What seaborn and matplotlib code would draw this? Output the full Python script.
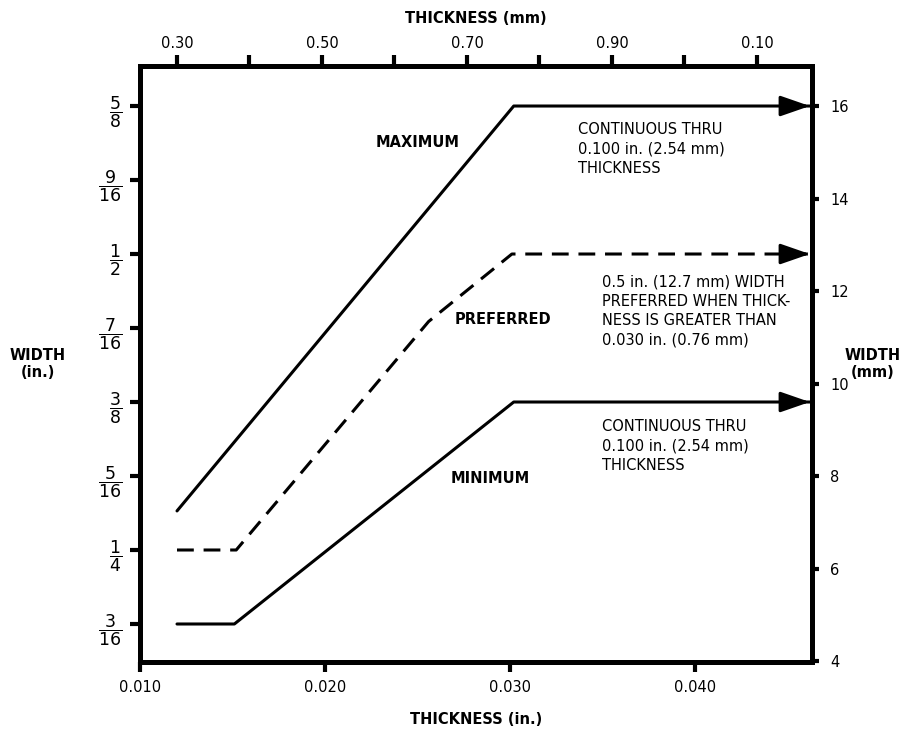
import numpy as np
import pandas as pd
import seaborn as sns
import matplotlib.pyplot as plt

# data (thickness in inches, width in inches)
max_x = [0.012, 0.0302, 0.0462]
max_y = [0.283, 0.625, 0.625]
pref_x = [0.012, 0.0152, 0.0256, 0.0301, 0.0462]
pref_y = [0.25, 0.25, 0.443, 0.5, 0.5]
min_x = [0.012, 0.0151, 0.0302, 0.0462]
min_y = [0.1875, 0.1875, 0.375, 0.375]

x_ticks = [0.010, 0.020, 0.030, 0.040]
x_labels = ["0.010", "0.020", "0.030", "0.040"]
y_ticks = [3 / 16, 1 / 4, 5 / 16, 3 / 8, 7 / 16, 1 / 2, 9 / 16, 5 / 8]
y_labels = [r"$\dfrac{3}{16}$", r"$\dfrac{1}{4}$", r"$\dfrac{5}{16}$", r"$\dfrac{3}{8}$",
            r"$\dfrac{7}{16}$", r"$\dfrac{1}{2}$", r"$\dfrac{9}{16}$", r"$\dfrac{5}{8}$"]
mm_ticks = [4, 6, 8, 10, 12, 14, 16]
top_ticks = [0.30, 0.50, 0.70, 0.90, 1.10]
top_labels = ["0.30", "0.50", "0.70", "0.90", "0.10"]
top_minor = [0.40, 0.60, 0.80, 1.00]

note_cont = "CONTINUOUS THRU\n0.100 in. (2.54 mm)\nTHICKNESS"
note_pref = "0.5 in. (12.7 mm) WIDTH\nPREFERRED WHEN THICK-\nNESS IS GREATER THAN\n0.030 in. (0.76 mm)"

df = pd.concat([
    pd.DataFrame({"x": max_x, "y": max_y, "limit": "MAXIMUM"}),
    pd.DataFrame({"x": pref_x, "y": pref_y, "limit": "PREFERRED"}),
    pd.DataFrame({"x": min_x, "y": min_y, "limit": "MINIMUM"}),
])

sns.set_style("ticks")
plt.rcParams["font.family"] = ["DejaVu Sans"]
plt.rcParams["mathtext.fontset"] = "dejavusans"
for key in ["text.color", "axes.labelcolor", "xtick.color", "ytick.color", "axes.edgecolor"]:
    plt.rcParams[key] = "black"

SPINE_W = 3.6
fig = plt.figure(figsize=(9.23, 7.33), dpi=100)
ax = fig.add_axes([140 / 923, 1 - 662 / 733, 672 / 923, 596 / 733])

sns.lineplot(data=df, x="x", y="y", hue="limit", style="limit",
             palette={"MAXIMUM": "black", "PREFERRED": "black", "MINIMUM": "black"},
             dashes={"MAXIMUM": "", "PREFERRED": (5.5, 3.2), "MINIMUM": ""},
             sort=False, estimator=None, lw=2.2, legend=False, ax=ax)

# arrow heads at the end of each curve
for xs, ys in [(max_x, max_y), (pref_x, pref_y), (min_x, min_y)]:
    ax.annotate("", xy=(xs[-1], ys[-1]), xytext=(xs[-1] - 0.0015, ys[-1]),
                arrowprops=dict(arrowstyle="-|>,head_length=0.72,head_width=0.25",
                                mutation_scale=25, color="black", lw=2.2,
                                shrinkA=0, shrinkB=0))

ax.set_xlim(0.010, 0.04632)
ax.set_ylim(0.1554, 0.6588)
ax.set_xticks(x_ticks)
ax.set_xticklabels(x_labels, fontsize=10.5)
ax.set_yticks(y_ticks)
ax.set_yticklabels(y_labels, fontsize=12.5)
ax.tick_params(axis="x", length=7, width=3, pad=6)
ax.tick_params(axis="y", length=7, width=3, pad=6)
ax.set_xlabel("THICKNESS (in.)", fontsize=10.5, fontweight="bold", labelpad=12)
ax.set_ylabel("WIDTH\n(in.)", fontsize=10.5, fontweight="bold", rotation=0,
              ha="center", va="center")
ax.yaxis.set_label_coords(-0.152, 0.5)
for s in ax.spines.values():
    s.set_linewidth(SPINE_W)

# right axis in mm
ax2 = ax.twinx()
ax2.set_ylim(3.98, 16.865)
ax2.set_yticks(mm_ticks)
ax2.set_yticklabels([str(v) for v in mm_ticks], fontsize=10.5)
ax2.tick_params(axis="y", length=5, width=3, pad=8)
ax2.set_ylabel("WIDTH\n(mm)", fontsize=10.5, fontweight="bold", rotation=0,
               ha="center", va="center")
ax2.yaxis.set_label_coords(1.09, 0.5)
for k, s in ax2.spines.items():
    s.set_visible(k == "right")
    s.set_linewidth(SPINE_W)

# top axis in mm
ax3 = ax.twiny()
ax3.set_xlim(0.249, 1.176)
ax3.set_xticks(top_ticks)
ax3.set_xticklabels(top_labels, fontsize=10.5)
ax3.set_xticks(top_minor, minor=True)
ax3.tick_params(axis="x", which="both", length=8, width=3, pad=3)
ax3.set_xlabel("THICKNESS (mm)", fontsize=10.5, fontweight="bold", labelpad=9)
for k, s in ax3.spines.items():
    s.set_visible(k == "top")
    s.set_linewidth(SPINE_W)

# curve names
ax.text(0.02503, 0.5938, "MAXIMUM", fontsize=10.5, fontweight="bold", ha="center", va="center")
ax.text(0.02962, 0.4450, "PREFERRED", fontsize=10.5, fontweight="bold", ha="center", va="center")
ax.text(0.02892, 0.3108, "MINIMUM", fontsize=10.5, fontweight="bold", ha="center", va="center")

# notes
ax.text(0.03368, 0.6118, note_cont, fontsize=10.5, ha="left", va="top", linespacing=1.38)
ax.text(0.03497, 0.4830, note_pref, fontsize=10.5, ha="left", va="top", linespacing=1.38)
ax.text(0.03497, 0.3604, note_cont, fontsize=10.5, ha="left", va="top", linespacing=1.38)

fig.savefig("out.png", dpi=100)
